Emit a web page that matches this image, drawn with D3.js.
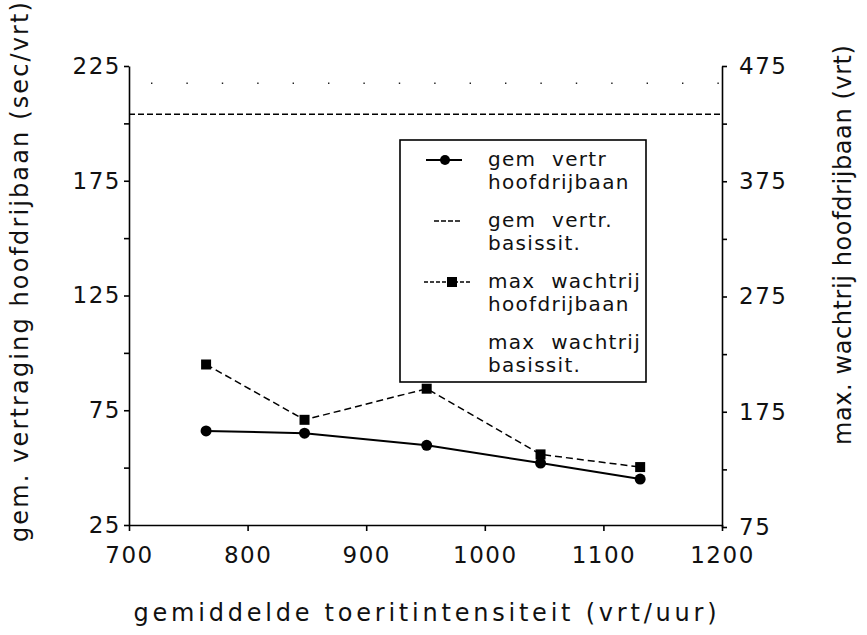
<!DOCTYPE html>
<html>
<head>
<meta charset="UTF-8">
<title>Vertraging hoofdrijbaan</title>
<style>
  body { margin: 0; background: #fff; }
  svg text { font-family: "DejaVu Sans", sans-serif; fill: #111; }
  .tick text { font-size: 23px; letter-spacing: 1.5px; }
  .axis path, .axis line { stroke: #000; stroke-width: 1.6; }
  .title { font-size: 24px; }
  .leg { font-size: 20px; letter-spacing: 1.3px; word-spacing: 8px; }
</style>
</head>
<body>
<div id="chart"></div>
<script src="https://cdnjs.cloudflare.com/ajax/libs/d3/7.8.5/d3.min.js"></script>
<script>
// values
const intensity = [765, 848, 951, 1047, 1131];      // vrt/uur
const delayMain = [66, 65, 59.7, 52, 45];           // sec/vrt, left axis
const queueMain = [216, 168, 195, 138, 127];        // vrt, right axis
const baseX = [700, 1200];
const delayBase = [204, 204];                       // gem vertr. basissit.
const queueBase = [460, 460];                       // max wachtrij basissit.

const xTicks = [700, 800, 900, 1000, 1100, 1200];
const leftTicks = [25, 50, 75, 100, 125, 150, 175, 200, 225];
const leftLabels = [25, 75, 125, 175, 225];
const rightTicks = [75, 125, 175, 225, 275, 325, 375, 425, 475];
const rightLabels = [75, 175, 275, 375, 475];

const legendItems = [
  ["gem  vertr", "hoofdrijbaan"],
  ["gem  vertr.", "basissit."],
  ["max  wachtrij", "hoofdrijbaan"],
  ["max  wachtrij", "basissit."]
];

const W = 867, H = 635;
const svg = d3.select('#chart').append('svg')
  .attr('width', W).attr('height', H);

const x = d3.scaleLinear().domain([700, 1200]).range([129, 722]);
const yL = d3.scaleLinear().domain([25, 225]).range([525, 66]);
const yR = d3.scaleLinear().domain([75, 475]).range([527, 66]);

// axes
svg.append('g').attr('class', 'axis')
  .attr('transform', 'translate(0,' + yL.range()[0] + ')')
  .call(d3.axisBottom(x).tickValues(xTicks).tickSize(6).tickSizeOuter(0)
    .tickPadding(16).tickFormat(d3.format('')));

svg.append('g').attr('class', 'axis')
  .attr('transform', 'translate(' + x.range()[0] + ',0)')
  .call(d3.axisLeft(yL).tickValues(leftTicks).tickSize(5).tickSizeOuter(0)
    .tickPadding(3).tickFormat(d => leftLabels.includes(d) ? d : ''));

svg.append('g').attr('class', 'axis')
  .attr('transform', 'translate(' + x.range()[1] + ',0)')
  .call(d3.axisRight(yR).tickValues(rightTicks).tickSize(5).tickSizeOuter(0)
    .tickPadding(12).tickFormat(d => rightLabels.includes(d) ? d : ''));

// base situation lines
svg.append('path')
  .datum(baseX.map((v, i) => [v, delayBase[i]]))
  .attr('fill', 'none').attr('stroke', '#000').attr('stroke-width', 1.5)
  .attr('stroke-dasharray', '6,3')
  .attr('d', d3.line().x(d => x(d[0])).y(d => yL(d[1])));

svg.append('path')
  .datum(baseX.map((v, i) => [v, queueBase[i]]))
  .attr('fill', 'none').attr('stroke', '#222').attr('stroke-width', 1.6)
  .attr('stroke-dasharray', '1.4,34').attr('stroke-dashoffset', -22)
  .attr('d', d3.line().x(d => x(d[0])).y(d => yR(d[1])));

// max wachtrij hoofdrijbaan
const qPts = intensity.map((v, i) => [v, queueMain[i]]);
svg.append('path').datum(qPts)
  .attr('fill', 'none').attr('stroke', '#000').attr('stroke-width', 1.5)
  .attr('stroke-dasharray', '7,4')
  .attr('d', d3.line().x(d => x(d[0])).y(d => yR(d[1])));
svg.selectAll('.sq').data(qPts).join('rect')
  .attr('x', d => x(d[0]) - 5).attr('y', d => yR(d[1]) - 5)
  .attr('width', 10).attr('height', 10).attr('fill', '#000');

// gem vertr hoofdrijbaan
const dPts = intensity.map((v, i) => [v, delayMain[i]]);
svg.append('path').datum(dPts)
  .attr('fill', 'none').attr('stroke', '#000').attr('stroke-width', 2)
  .attr('d', d3.line().x(d => x(d[0])).y(d => yL(d[1])));
svg.selectAll('.dot').data(dPts).join('circle')
  .attr('cx', d => x(d[0])).attr('cy', d => yL(d[1]))
  .attr('r', 5.5).attr('fill', '#000');

// legend
const lg = svg.append('g');
lg.append('rect').attr('x', 400).attr('y', 140).attr('width', 246).attr('height', 242)
  .attr('fill', '#fff').attr('stroke', '#000').attr('stroke-width', 1.6);
const rowY = [160, 221, 282, 343];
legendItems.forEach((t, i) => {
  lg.append('text').attr('class', 'leg').attr('x', 488).attr('y', rowY[i] + 6).text(t[0]);
  lg.append('text').attr('class', 'leg').attr('x', 488).attr('y', rowY[i] + 29).text(t[1]);
});
lg.append('line').attr('x1', 426).attr('x2', 462).attr('y1', rowY[0]).attr('y2', rowY[0])
  .attr('stroke', '#000').attr('stroke-width', 2);
lg.append('circle').attr('cx', 445).attr('cy', rowY[0]).attr('r', 5).attr('fill', '#000');
lg.append('line').attr('x1', 434).attr('x2', 460).attr('y1', rowY[1]).attr('y2', rowY[1])
  .attr('stroke', '#000').attr('stroke-width', 1.5).attr('stroke-dasharray', '5,2');
lg.append('line').attr('x1', 424).attr('x2', 470).attr('y1', rowY[2]).attr('y2', rowY[2])
  .attr('stroke', '#000').attr('stroke-width', 1.3).attr('stroke-dasharray', '4,2');
lg.append('rect').attr('x', 447).attr('y', rowY[2] - 5).attr('width', 10).attr('height', 10)
  .attr('fill', '#000');

// axis titles (stretched to the widths measured on the scan)
svg.append('text').attr('class', 'title')
  .attr('transform', 'translate(28,272) rotate(-90)')
  .attr('text-anchor', 'middle')
  .attr('textLength', 540).attr('lengthAdjust', 'spacing')
  .text('gem. vertraging hoofdrijbaan (sec/vrt)');
svg.append('text').attr('class', 'title')
  .attr('transform', 'translate(851,245) rotate(-90)')
  .attr('text-anchor', 'middle')
  .attr('textLength', 400).attr('lengthAdjust', 'spacing')
  .text('max. wachtrij hoofdrijbaan (vrt)');
svg.append('text').attr('class', 'title')
  .attr('x', 425).attr('y', 621)
  .attr('text-anchor', 'middle')
  .attr('textLength', 583).attr('lengthAdjust', 'spacing')
  .text('gemiddelde toeritintensiteit (vrt/uur)');
</script>
</body>
</html>
